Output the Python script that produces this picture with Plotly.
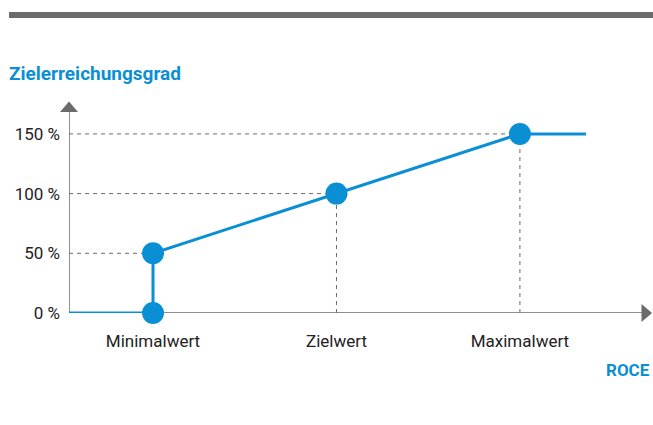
import plotly.graph_objects as go

# Data
categories = ["Minimalwert", "Zielwert", "Maximalwert"]
cat_x = [1, 2, 3]
line_x = [0.542, 1, 1, 2, 3, 3.36]
line_y = [0, 0, 50, 100, 150, 150]
point_x = [1, 1, 2, 3]
point_y = [0, 50, 100, 150]
y_ticks = [0, 50, 100, 150]
y_labels = ["0 %", "50 %", "100 %", "150 %"]

BLUE = "#0a8fd5"
GREY = "#6b6b6b"
FONT = "Roboto, sans-serif"

X0, X1 = 0.542, 3.72
Y0, Y1 = 0, 178.4

fig = go.Figure()

# dashed guides
for px, py in zip(point_x[1:], point_y[1:]):
    fig.add_trace(go.Scatter(x=[X0, px], y=[py, py], mode="lines",
                             line=dict(color=GREY, width=1, dash="4px,4px"),
                             hoverinfo="skip", showlegend=False))
for px, py in zip(point_x[2:], point_y[2:]):
    fig.add_trace(go.Scatter(x=[px, px], y=[0, py], mode="lines",
                             line=dict(color=GREY, width=1, dash="4px,4px"),
                             hoverinfo="skip", showlegend=False))

# axes lines
fig.add_trace(go.Scatter(x=[X0, X1 - 0.03], y=[0, 0], mode="lines", cliponaxis=False,
                         line=dict(color=GREY, width=1.5), hoverinfo="skip", showlegend=False))
fig.add_trace(go.Scatter(x=[X0, X0], y=[0, Y1 - 6], mode="lines", cliponaxis=False,
                         line=dict(color=GREY, width=1.5), hoverinfo="skip", showlegend=False))

fig.add_trace(go.Scatter(x=line_x, y=line_y, mode="lines", cliponaxis=False,
                         line=dict(color=BLUE, width=3), showlegend=False))
fig.add_trace(go.Scatter(x=point_x, y=point_y, mode="markers", cliponaxis=False,
                         marker=dict(color=BLUE, size=22), showlegend=False))

shapes = [
    # top grey bar
    dict(type="rect", xref="paper", yref="paper", xsizemode="pixel", ysizemode="pixel",
         xanchor=0, yanchor=1, x0=-60, x1=584, y0=88, y1=82,
         fillcolor=GREY, line=dict(width=0)),
    # y arrowhead
    dict(type="path", xref="paper", yref="paper", xsizemode="pixel", ysizemode="pixel",
         xanchor=0, yanchor=1, path="M -9 -12 L 9 -12 L 0 -1.5 Z",
         fillcolor=GREY, line=dict(width=0)),
    # x arrowhead
    dict(type="path", xref="paper", yref="paper", xsizemode="pixel", ysizemode="pixel",
         xanchor=1, yanchor=0, path="M -10.5 9 L -10.5 -9 L 0 0 Z",
         fillcolor=GREY, line=dict(width=0)),
]

annotations = [
    dict(text="<b>Zielerreichungsgrad</b>", xref="paper", yref="paper", x=-62 / 583, y=1,
         xanchor="left", yanchor="bottom", yshift=13, showarrow=False,
         font=dict(family=FONT, size=19, color=BLUE)),
    dict(text="<b>ROCE</b>", xref="paper", yref="paper", x=1, y=0,
         xanchor="right", yanchor="top", yshift=-45, showarrow=False,
         font=dict(family=FONT, size=17, color=BLUE)),
]

fig.update_layout(
    width=653, height=425,
    margin=dict(l=69, r=1, t=100, b=112),
    paper_bgcolor="white", plot_bgcolor="white",
    font=dict(family=FONT, size=17, color="#222222"),
    shapes=shapes, annotations=annotations,
    xaxis=dict(range=[X0, X1], tickvals=cat_x, ticktext=categories,
               showgrid=False, zeroline=False, showline=False, ticks="",
               ticklabelstandoff=16, fixedrange=True),
    yaxis=dict(range=[Y0, Y1], tickvals=y_ticks, ticktext=y_labels,
               showgrid=False, zeroline=False, showline=False, ticks="",
               ticklabelstandoff=8, fixedrange=True),
)

fig.write_html("out.html")
